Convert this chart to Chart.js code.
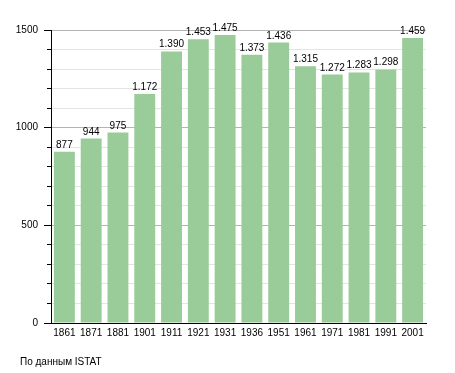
<!DOCTYPE html>
<html>
<head>
<meta charset="utf-8">
<script src="https://cdn.jsdelivr.net/npm/chart.js@4/dist/chart.umd.min.js"></script>
<style>
  html, body { margin: 0; padding: 0; background: #fff; }
  #wrap { width: 455px; height: 373px; position: relative; }
</style>
</head>
<body>
<div id="wrap"><canvas id="chart" width="455" height="373"></canvas></div>
<script>
// --- data ---
const years = ["1861","1871","1881","1901","1911","1921","1931","1936","1951","1961","1971","1981","1991","2001"];
const population = [877, 944, 975, 1172, 1390, 1453, 1475, 1373, 1436, 1315, 1272, 1283, 1298, 1459];
const sourceNote = "По данным ISTAT";

const FONT = "'Liberation Sans', Arial, sans-serif";

// 1390 -> "1.390"
function fmt(v) {
  return String(v).replace(/\B(?=(\d{3})+(?!\d))/g, ".");
}

// value labels above the bars + footer note
const labelsPlugin = {
  id: "barLabels",
  afterDatasetsDraw(chart) {
    const ctx = chart.ctx;
    const meta = chart.getDatasetMeta(0);
    ctx.save();
    ctx.font = "10px " + FONT;
    ctx.fillStyle = "#000";
    ctx.textAlign = "center";
    ctx.textBaseline = "alphabetic";
    meta.data.forEach((bar, i) => {
      ctx.fillText(fmt(population[i]), bar.x, bar.y - 4);
    });
    ctx.textAlign = "left";
    ctx.textBaseline = "middle";
    ctx.fillText(sourceNote, 20, 362);
    ctx.restore();
  }
};

new Chart(document.getElementById("chart").getContext("2d"), {
  type: "bar",
  data: {
    labels: years,
    datasets: [{
      data: population,
      backgroundColor: "#99cc99",
      borderWidth: 0,
      barPercentage: 0.78,
      categoryPercentage: 1
    }]
  },
  options: {
    responsive: false,
    animation: false,
    layout: { padding: { top: 30, right: 29, bottom: 0, left: 0 } },
    plugins: { legend: { display: false }, tooltip: { enabled: false } },
    scales: {
      x: {
        grid: { display: false, drawTicks: false },
        border: { display: true, color: "#000", width: 1 },
        ticks: { color: "#000", font: { family: FONT, size: 10 }, padding: 4, maxRotation: 0, autoSkip: false },
        afterFit(s) { s.height = 50; }
      },
      // major axis: labels every 500, long ticks
      y: {
        min: 0, max: 1500,
        weight: 1,
        ticks: { stepSize: 500, color: "#000", font: { family: FONT, size: 10 }, padding: 6,
                 callback: (v) => String(v) },
        grid: { color: "#b4b4b4", tickColor: "#000", tickLength: 7, lineWidth: 1 },
        border: { display: true, color: "#000", width: 1 },
        afterFit(s) { s.width = 51; }
      },
      // minor axis: lines + short ticks every 100
      y2: {
        position: "left",
        weight: 0,
        min: 0, max: 1500,
        ticks: { stepSize: 100, display: false },
        grid: {
          color: (c) => (c.tick && c.tick.value % 500 === 0) ? "rgba(0,0,0,0)" : "#e4e4e4",
          tickColor: (c) => (c.tick && c.tick.value % 500 === 0) ? "rgba(0,0,0,0)" : "#000",
          tickLength: 4
        },
        border: { display: false },
        afterFit(s) { s.width = 0; }
      }
    }
  },
  plugins: [labelsPlugin]
});
</script>
</body>
</html>
